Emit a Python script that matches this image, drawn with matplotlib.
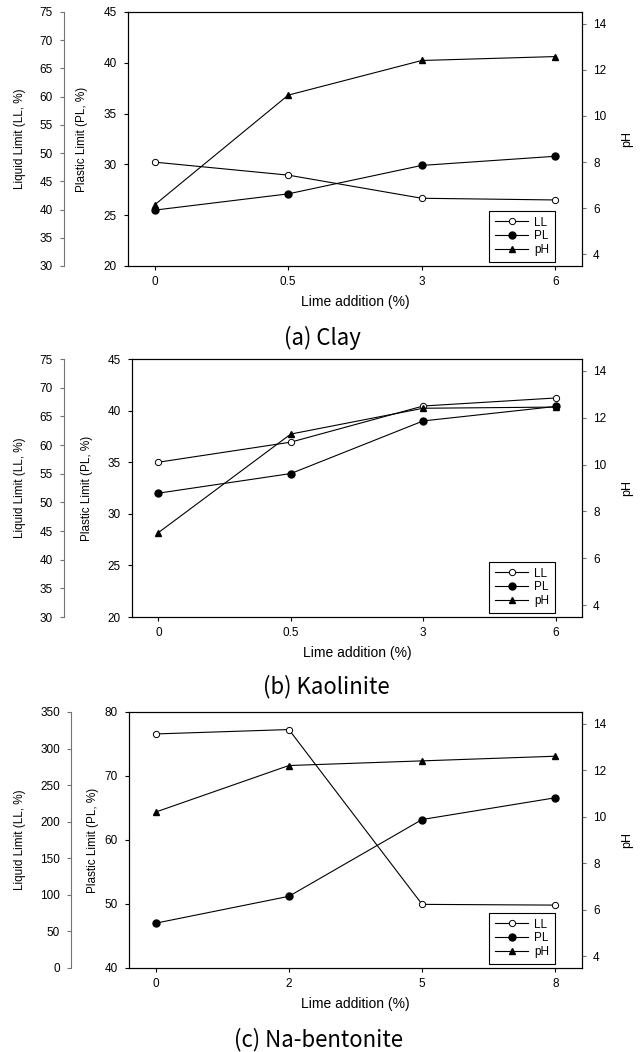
import matplotlib
matplotlib.use("Agg")
import matplotlib.pyplot as plt
from matplotlib.lines import Line2D

plt.rcParams['font.family'] = ['Liberation Sans', 'DejaVu Sans']
plt.rcParams['font.size'] = 8.5

# data
clay_x = ['0', '0.5', '3', '6']
clay_ll = [48.4, 46.1, 42.0, 41.7]
clay_pl = [25.5, 27.1, 29.9, 30.8]
clay_ph = [6.15, 10.9, 12.4, 12.57]

kao_x = ['0', '0.5', '3', '6']
kao_ll = [57.0, 60.5, 66.8, 68.2]
kao_pl = [32.0, 33.9, 39.0, 40.4]
kao_ph = [7.1, 11.3, 12.4, 12.45]

bent_x = ['0', '2', '5', '8']
bent_ll = [320, 326, 87, 86]
bent_pl = [47.0, 51.2, 63.2, 66.6]
bent_ph = [10.2, 12.2, 12.4, 12.6]

W, H = 642, 1052
fig = plt.figure(figsize=(W / 100, H / 100), dpi=100)


def panel(box, ll_x, pl_x, xlabels, ll, pl, ph, ll_lim, ll_step, pl_lim, pl_step,
          title, title_xy):
    x0, y0, x1, y1 = box
    w, h = x1 - x0, y1 - y0
    ax = fig.add_axes([x0 / W, 1 - y1 / H, w / W, h / H])
    ax_ll = ax.twinx()
    ax_ph = ax.twinx()
    xs = range(len(xlabels))

    # plastic limit (main axis)
    ax.plot(xs, pl, '-o', color='black', lw=0.8, ms=5, mfc='black', zorder=3)
    ax.set_ylim(*pl_lim)
    ax.set_yticks(range(pl_lim[0], pl_lim[1] + 1, pl_step))
    ax.set_xlim(-0.2, len(xlabels) - 0.8)
    ax.set_xticks(list(xs))
    ax.set_xticklabels(xlabels)
    ax.set_xlabel('Lime addition (%)', fontsize=10)
    ax.xaxis.set_label_coords(0.5, -29 / h)
    ax.set_ylabel('Plastic Limit (PL, %)', fontsize=8.5)
    ax.yaxis.set_label_coords((pl_x + 6 - x0) / w, 0.5)
    ax.tick_params(direction='out', length=3, width=0.8, pad=4)
    ax.tick_params(axis='y', pad=5)
    for s in ax.spines.values():
        s.set_linewidth(0.8)

    # liquid limit (outer left axis)
    ax_ll.plot(xs, ll, '-o', color='black', lw=0.8, ms=4.5, mfc='white',
               mew=0.7, zorder=3)
    ax_ll.set_ylim(*ll_lim)
    ax_ll.set_yticks(range(ll_lim[0], ll_lim[1] + 1, ll_step))
    ax_ll.spines['left'].set_position(('outward', (x0 - ll_x) * 0.72))
    ax_ll.spines['left'].set_visible(True)
    ax_ll.spines['left'].set_color('0.45')
    ax_ll.spines['left'].set_linewidth(0.8)
    for k in ('right', 'top', 'bottom'):
        ax_ll.spines[k].set_visible(False)
    ax_ll.yaxis.set_ticks_position('left')
    ax_ll.yaxis.set_label_position('left')
    ax_ll.tick_params(direction='out', length=3, width=0.8, color='0.45', pad=5)
    ax_ll.set_ylabel('Liquid Limit (LL, %)', fontsize=8.5)
    ax_ll.yaxis.set_label_coords((20 + 6 - x0) / w, 0.5)

    # pH (right axis)
    ax_ph.plot(xs, ph, '-^', color='black', lw=0.8, ms=5, zorder=3)
    ax_ph.set_ylim(3.5, 14.5)
    ax_ph.set_yticks(range(4, 15, 2))
    ax_ph.tick_params(direction='out', length=3, width=0.8, color='0.45', pad=5)
    ax_ph.set_ylabel('pH', fontsize=9)
    ax_ph.yaxis.set_label_coords((621 - x0) / w, 0.5)
    for s in ax_ph.spines.values():
        s.set_linewidth(0.8)

    handles = [
        Line2D([], [], color='black', lw=0.8, marker='o', ms=4.5, mfc='white', mew=0.7),
        Line2D([], [], color='black', lw=0.8, marker='o', ms=5),
        Line2D([], [], color='black', lw=0.8, marker='^', ms=5),
    ]
    leg = ax_ph.legend(handles, ['LL', 'PL', 'pH'], loc='lower right',
                       bbox_to_anchor=((555 - x0) / w, 4 / h), borderaxespad=0,
                       fancybox=False, edgecolor='black', framealpha=1,
                       fontsize=8.5, handlelength=2.8, labelspacing=0.15,
                       borderpad=0.5, handletextpad=0.5)
    leg.get_frame().set_linewidth(0.8)

    fig.text(title_xy[0] / W, 1 - title_xy[1] / H, title,
             family=['Noto Sans CJK KR', 'DejaVu Sans'], fontsize=16,
             ha='center', va='center')


panel((128, 12, 582, 266), 64, 82, clay_x, clay_ll, clay_pl, clay_ph,
      (30, 75), 5, (20, 45), 5, '(a) Clay', (322, 338))
panel((132, 359, 582, 617), 64, 87, kao_x, kao_ll, kao_pl, kao_ph,
      (30, 75), 5, (20, 45), 5, '(b) Kaolinite', (326, 687))
panel((129, 712, 582, 968), 71, 93, bent_x, bent_ll, bent_pl, bent_ph,
      (0, 350), 50, (40, 80), 10, '(c) Na-bentonite', (319, 1040))

fig.savefig('out.png', dpi=100)
